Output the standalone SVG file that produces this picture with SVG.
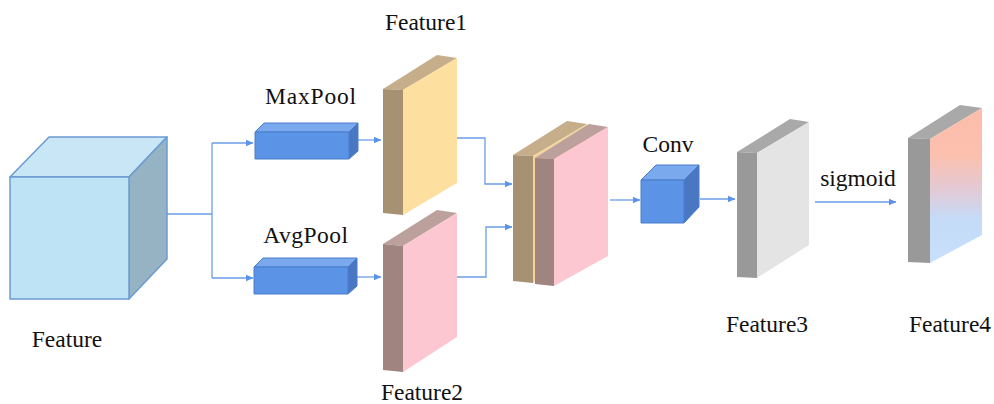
<svg xmlns="http://www.w3.org/2000/svg" width="994" height="404" viewBox="0 0 994 404">
  <defs>
    <marker id="arrow" markerWidth="8" markerHeight="8" refX="7" refY="4" orient="auto" markerUnits="userSpaceOnUse">
      <path d="M0,0.8 L7.5,4 L0,7.2 Z" fill="#5b93e6"/>
    </marker>
    <linearGradient id="sigGrad" x1="0" y1="0" x2="0" y2="1">
      <stop offset="0" stop-color="#fdbcaa"/>
      <stop offset="0.3" stop-color="#fcc0ae"/>
      <stop offset="0.5" stop-color="#e6c8d0"/>
      <stop offset="0.72" stop-color="#c4dbf8"/>
      <stop offset="1" stop-color="#c8e0fc"/>
    </linearGradient>
  </defs>
  <style>
    .lbl { font-family: "Liberation Serif", "Times New Roman", serif; font-size: 23.5px; fill: #111; text-anchor: middle; }
    .wire { fill: none; stroke: #6a9de6; stroke-width: 1.3; }
    .cubeEdge { stroke: #6b9bd2; stroke-width: 1.5; stroke-linejoin: round; }
    .blueEdge { stroke: #4a7ccc; stroke-width: 1; stroke-linejoin: round; }
  </style>

  <rect width="994" height="404" fill="#ffffff"/>

  <!-- connectors -->
  <g id="connectors">
    <path class="wire" d="M167,214 H212"/>
    <path class="wire" d="M212,143 V278"/>
    <path class="wire" d="M212,143 H253" marker-end="url(#arrow)"/>
    <path class="wire" d="M212,278 H253" marker-end="url(#arrow)"/>
    <path class="wire" d="M358,140 H381" marker-end="url(#arrow)"/>
    <path class="wire" d="M357,277 H381" marker-end="url(#arrow)"/>
    <path class="wire" d="M457,138 H485 V184 H512" marker-end="url(#arrow)"/>
    <path class="wire" d="M457,277 H486 V227 H512" marker-end="url(#arrow)"/>
    <path class="wire" d="M610,200 H640" marker-end="url(#arrow)"/>
    <path class="wire" d="M700,199 H735" marker-end="url(#arrow)"/>
    <path class="wire" d="M815,202 H896" marker-end="url(#arrow)"/>
  </g>

  <!-- input feature cube -->
  <g id="feature">
    <polygon class="cubeEdge" points="10,177 49,137 167,137 129,177" fill="#c8e6f5"/>
    <polygon class="cubeEdge" points="129,177 167,137 167,259 129,299" fill="#96b3c4"/>
    <rect class="cubeEdge" x="10" y="177" width="119" height="122" fill="#bee3f5"/>
    <text class="lbl" x="67" y="347">Feature</text>
  </g>

  <!-- max pooling block -->
  <g id="maxpool">
    <polygon class="blueEdge" points="255,132 264,123 358,123 349,132" fill="#7ba9ed"/>
    <polygon class="blueEdge" points="349,132 358,123 358,151 349,159" fill="#4a77c2"/>
    <rect class="blueEdge" x="255" y="132" width="94" height="27" fill="#5b93e6"/>
    <text class="lbl" x="311" y="104" letter-spacing="0.8">MaxPool</text>
  </g>

  <!-- average pooling block -->
  <g id="avgpool">
    <polygon class="blueEdge" points="254,267 263,258 357,258 348,267" fill="#7ba9ed"/>
    <polygon class="blueEdge" points="348,267 357,258 357,286 348,294" fill="#4a77c2"/>
    <rect class="blueEdge" x="254" y="267" width="94" height="27" fill="#5b93e6"/>
    <text class="lbl" x="306" y="243" letter-spacing="0.5">AvgPool</text>
  </g>

  <!-- Feature1 slab -->
  <g id="feature1">
    <polygon points="383,89 437,55 457,58 403,90" fill="#c6ae8b"/>
    <polygon points="383,89 403,90 403,215 383,213" fill="#a79173"/>
    <polygon points="403,90 457,58 457,183 403,215" fill="#fddfa0"/>
    <text class="lbl" x="426" y="30">Feature1</text>
  </g>

  <!-- Feature2 slab -->
  <g id="feature2">
    <polygon points="383,244 437,210 457,213 403,246" fill="#bba09b"/>
    <polygon points="383,244 403,246 403,372 383,370" fill="#9f847f"/>
    <polygon points="403,246 457,213 457,337 403,372" fill="#fdc7d1"/>
    <text class="lbl" x="422" y="400">Feature2</text>
  </g>

  <!-- concatenated slabs -->
  <g id="concat">
    <polygon points="513,155 567,121 587,124 533,156" fill="#c6ae8b"/>
    <polygon points="513,155 533,156 533,283 513,281" fill="#a79173"/>
    <polygon points="533,156 587,124 587,250 533,283" fill="#f3d49e"/>
    <polygon points="535,158 589,124 608,127 554,159" fill="#bba09b"/>
    <polygon points="535,158 554,159 554,286 535,284" fill="#9f847f"/>
    <polygon points="554,159 608,127 608,256 554,286" fill="#fdc7d1"/>
  </g>

  <!-- convolution cube -->
  <g id="conv">
    <polygon class="blueEdge" points="641,180 656,165 699,165 684,180" fill="#7ba9ed"/>
    <polygon class="blueEdge" points="684,180 699,165 699,207 684,223" fill="#4a77c2"/>
    <rect class="blueEdge" x="641" y="180" width="43" height="43" fill="#5b93e6"/>
    <text class="lbl" x="668" y="152">Conv</text>
  </g>

  <!-- Feature3 slab -->
  <g id="feature3">
    <polygon points="737,152 790,119 809,122 757,153" fill="#a9a9a9"/>
    <polygon points="737,152 757,153 757,278 737,277" fill="#999999"/>
    <polygon points="757,153 809,122 809,245 757,278" fill="#e4e4e4"/>
    <text class="lbl" x="767" y="332">Feature3</text>
  </g>

  <!-- sigmoid label -->
  <g id="sigmoid">
    <text class="lbl" x="858" y="186">sigmoid</text>
  </g>

  <!-- Feature4 slab -->
  <g id="feature4">
    <polygon points="908,138 960,105 982,108 930,139" fill="#a9a9a9"/>
    <polygon points="908,138 930,139 930,263 908,262" fill="#999999"/>
    <polygon points="930,139 982,108 982,235 930,263" fill="url(#sigGrad)"/>
    <text class="lbl" x="950" y="332">Feature4</text>
  </g>
</svg>
